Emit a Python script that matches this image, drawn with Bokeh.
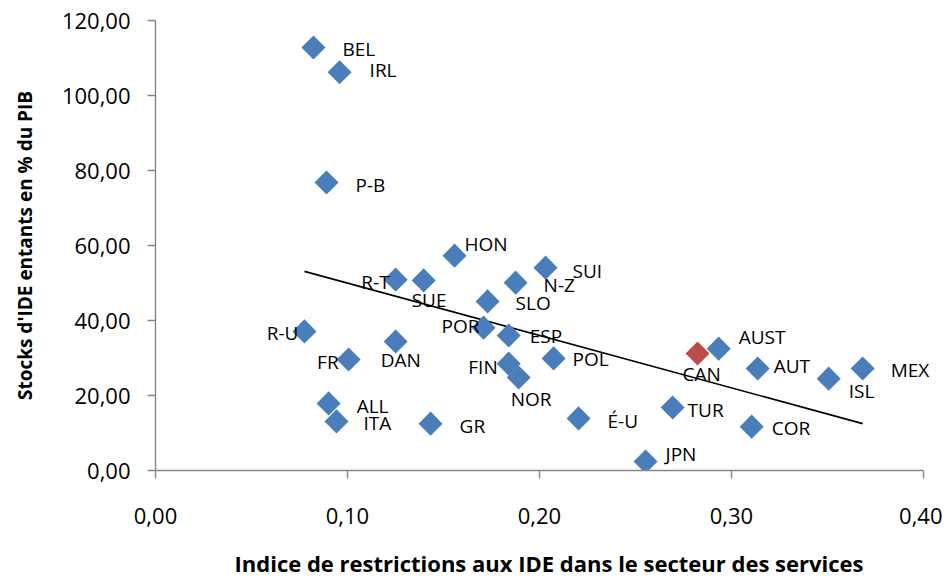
import math
from bokeh.plotting import figure
from bokeh.models import Range1d, FixedTicker, ColumnDataSource
from bokeh.embed import file_html
from bokeh.resources import INLINE
from bokeh.core.properties import value

# ---------------- data ----------------
countries = ["BEL", "IRL", "P-B", "HON", "R-T", "SUE", "SUI", "N-Z", "SLO", "POR",
             "ESP", "R-U", "FR", "DAN", "FIN", "NOR", "POL", "ALL", "ITA", "GR",
             "É-U", "CAN", "AUST", "AUT", "ISL", "MEX", "TUR", "COR", "JPN"]
restriction_index = [0.0823, 0.0959, 0.0891, 0.1558, 0.1251, 0.1397, 0.2032, 0.1876, 0.1730, 0.1709,
                     0.1840, 0.0776, 0.1006, 0.1251, 0.1840, 0.1892, 0.2074, 0.0902, 0.0943, 0.1433,
                     0.2204, 0.2824, 0.2934, 0.3137, 0.3507, 0.3684, 0.2694, 0.3106, 0.2553]
fdi_stock_pct_gdp = [112.8, 106.2, 76.8, 57.3, 50.9, 50.7, 54.1, 50.1, 45.1, 38.1,
                     36.0, 37.1, 29.6, 34.4, 28.5, 24.8, 29.9, 17.9, 13.1, 12.5,
                     13.9, 31.2, 32.5, 27.2, 24.5, 27.2, 16.8, 11.7, 2.4]
highlight_country = "CAN"

trend_x = [0.0776, 0.3684]
trend_y = [53.1, 12.5]

x_ticks = [0.0, 0.1, 0.2, 0.3, 0.4]
x_tick_labels = ["0,00", "0,10", "0,20", "0,30", "0,40"]
y_ticks = [0, 20, 40, 60, 80, 100, 120]
y_tick_labels = ["0,00", "20,00", "40,00", "60,00", "80,00", "100,00", "120,00"]

x_title = "Indice de restrictions aux IDE dans le secteur des services"
y_title = "Stocks d'IDE entants en % du PIB"

# ---------------- label placement (screen px) ----------------
label_layout = {
    "BEL": (29, 1, "left"), "IRL": (30, -2, "left"), "P-B": (29, 2, "left"),
    "HON": (10, -12, "left"), "R-T": (-6, 2, "right"), "SUE": (-12, 20, "left"),
    "SUI": (27, 3, "left"), "N-Z": (28, 2, "left"), "SLO": (28, 2, "left"),
    "POR": (-4, -2, "right"), "ESP": (21, 0, "left"), "R-U": (-6, 2, "right"),
    "FR": (-10, 2, "right"), "DAN": (-15, 18, "left"), "FIN": (-11, 3, "right"),
    "NOR": (-8, 21, "left"), "POL": (19, 1, "left"), "ALL": (28, 3, "left"),
    "ITA": (27, 2, "left"), "GR": (29, 2, "left"), "É-U": (29, 3, "left"),
    "CAN": (-15, 20, "left"), "AUST": (20, -12, "left"), "AUT": (16, -3, "left"),
    "ISL": (20, 12, "left"), "MEX": (28, 1, "left"), "TUR": (15, 2, "left"),
    "COR": (20, 1, "left"), "JPN": (20, -8, "left"),
}

BLUE = "#4A7EBB"
RED = "#BE4B48"
AXIS_GREY = "#868686"
FONT = "Open Sans"

colors = [RED if c == highlight_country else BLUE for c in countries]
src = ColumnDataSource(dict(x=restriction_index, y=fdi_stock_pct_gdp, c=colors, name=countries))

def label_source(align):
    d = dict(x=[], y=[], t=[], dx=[], dy=[])
    for c, xv, yv in zip(countries, restriction_index, fdi_stock_pct_gdp):
        dx, dy, al = label_layout[c]
        if al == align:
            d["x"].append(xv); d["y"].append(yv); d["t"].append(c)
            d["dx"].append(dx); d["dy"].append(dy)
    return ColumnDataSource(d)

p = figure(width=942, height=580, output_backend="svg", toolbar_location=None,
           x_range=Range1d(0, 0.41), y_range=Range1d(0, 120),
           min_border_left=155, min_border_right=0, min_border_top=20, min_border_bottom=100)
p.background_fill_color = "white"
p.border_fill_color = "white"
p.outline_line_color = None
p.xgrid.visible = False
p.ygrid.visible = False

p.line(trend_x, trend_y, line_color="black", line_width=1.6)

p.scatter("x", "y", source=src, marker="square", size=17, angle=math.pi / 4,
          fill_color="c", line_color=None)

for al in ("left", "right"):
    p.text("x", "y", text="t", source=label_source(al), x_offset="dx", y_offset="dy",
           text_align=al, text_baseline="middle", text_font=value(FONT),
           text_font_size="19px", text_color="black")

for ax, ticks, labels in ((p.xaxis, x_ticks, x_tick_labels), (p.yaxis, y_ticks, y_tick_labels)):
    ax.ticker = FixedTicker(ticks=ticks)
    ax.major_label_overrides = {t: l for t, l in zip(ticks, labels)}
    ax.axis_line_color = AXIS_GREY
    ax.axis_line_width = 1.4
    ax.major_tick_line_color = AXIS_GREY
    ax.major_tick_line_width = 1.4
    ax.major_tick_in = 0
    ax.major_tick_out = 8
    ax.minor_tick_line_color = None
    ax.major_label_text_font = FONT
    ax.major_label_text_font_size = "22px"
    ax.major_label_text_color = "black"
    ax.axis_label_text_font = FONT
    ax.axis_label_text_font_style = "bold"
    ax.axis_label_text_color = "black"

p.xaxis.axis_label_text_font_size = "22px"
p.yaxis.axis_label_text_font_size = "19px"
p.xaxis.bounds = (0, 0.4)
p.yaxis.bounds = (0, 120)
p.xaxis.axis_label = x_title
p.yaxis.axis_label = y_title
p.xaxis.major_label_standoff = 29
p.xaxis.axis_label_standoff = 21
p.yaxis.major_label_standoff = 17
p.yaxis.axis_label_standoff = 21

open("out.html", "w").write(file_html(p, INLINE))
